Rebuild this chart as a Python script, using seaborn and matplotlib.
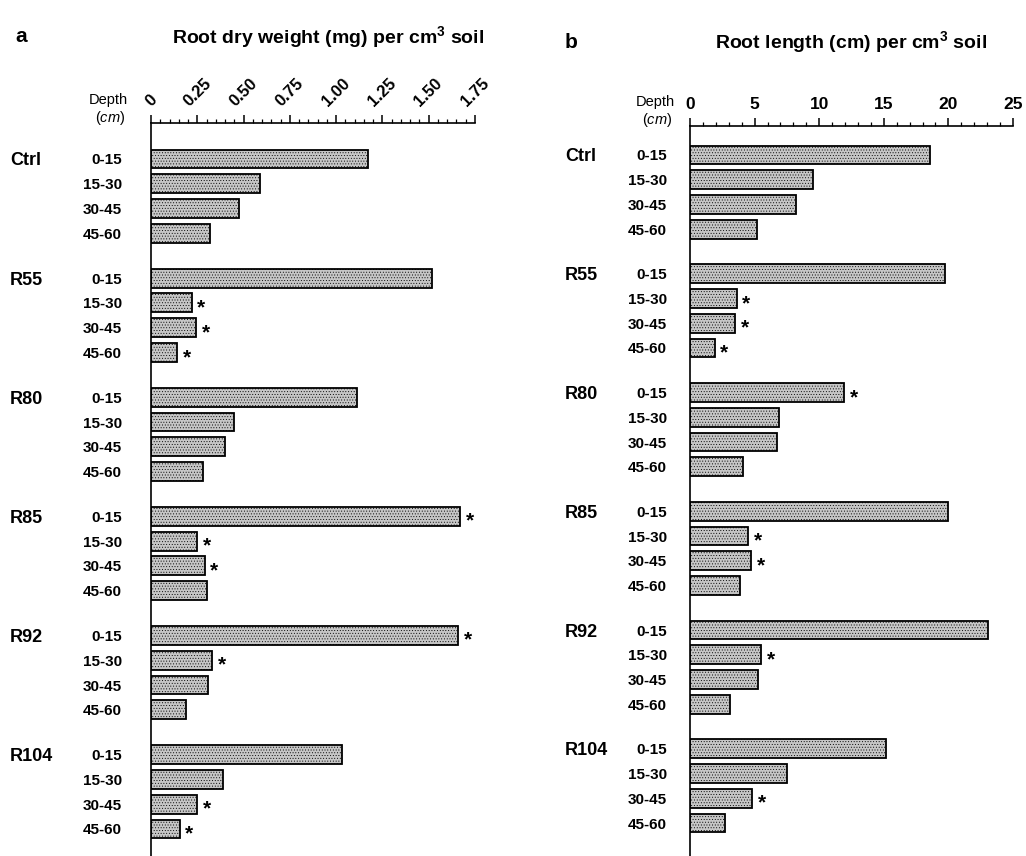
import matplotlib
matplotlib.use("Agg")
import matplotlib.pyplot as plt
from matplotlib.ticker import MultipleLocator
import pandas as pd
import seaborn as sns

groups = ["Ctrl", "R55", "R80", "R85", "R92", "R104"]
depths = ["0-15", "15-30", "30-45", "45-60"]

dry_weight = [
    1.17, 0.59, 0.475, 0.32,
    1.52, 0.22, 0.245, 0.14,
    1.11, 0.45, 0.40, 0.28,
    1.67, 0.25, 0.29, 0.30,
    1.66, 0.33, 0.31, 0.19,
    1.03, 0.39, 0.25, 0.155,
]
root_length = [
    18.6, 9.5, 8.2, 5.2,
    19.7, 3.6, 3.5, 1.9,
    11.9, 6.9, 6.7, 4.1,
    20.0, 4.5, 4.7, 3.9,
    23.1, 5.5, 5.3, 3.1,
    15.2, 7.5, 4.8, 2.7,
]
# 1 = significantly different from control (asterisk)
sig_weight = [
    0, 0, 0, 0,
    0, 1, 1, 1,
    0, 0, 0, 0,
    1, 1, 1, 0,
    1, 1, 0, 0,
    0, 0, 1, 1,
]
sig_length = [
    0, 0, 0, 0,
    0, 1, 1, 1,
    1, 0, 0, 0,
    0, 1, 1, 0,
    0, 1, 0, 0,
    0, 0, 1, 0,
]

GROUP_STEP = 4.8
BAR_FILL = "#c6c6c6"


def build_frame(values, flags):
    rows = []
    for gi, g in enumerate(groups):
        for di, d in enumerate(depths):
            k = gi * len(depths) + di
            rows.append({
                "group": g,
                "depth": d,
                "pos": gi * GROUP_STEP + di,
                "value": values[k],
                "sig": flags[k],
            })
    return pd.DataFrame(rows)


def draw_panel(fig, rect, df, xmax, major, minor, ylim, star_off,
               label_pad, group_x, rotate):
    ax = fig.add_axes(rect)
    sns.barplot(
        data=df, x="value", y="pos", orient="h", native_scale=True,
        width=0.76, color=BAR_FILL, edgecolor="black", linewidth=1.3,
        saturation=1, ax=ax,
    )
    for p in ax.patches:
        p.set_hatch("......")

    ax.set_xlim(0, xmax)
    ax.set_ylim(*ylim)
    ax.xaxis.set_major_locator(MultipleLocator(major))
    ax.xaxis.set_minor_locator(MultipleLocator(minor))
    ax.xaxis.tick_top()
    ax.tick_params(axis="x", which="major", direction="out", length=6,
                   width=1.1, pad=4, colors="black")
    ax.tick_params(axis="x", which="minor", direction="out", length=3,
                   width=0.9, colors="black")
    for side in ["right", "bottom"]:
        ax.spines[side].set_visible(False)
    for side in ["top", "left"]:
        ax.spines[side].set_linewidth(1.2)
        ax.spines[side].set_color("black")

    if rotate:
        ticks = [i * major for i in range(8)]
        labels = ["0"] + [f"{t:.2f}" for t in ticks[1:]]
        ax.set_xticks(ticks, labels, rotation=45, ha="center", va="bottom",
                      fontsize=12, fontweight="bold")
    else:
        for lbl in ax.get_xticklabels():
            lbl.set_fontsize(12.5)
            lbl.set_fontweight("bold")

    ax.set_yticks(df["pos"], df["depth"], fontsize=11, fontweight="bold")
    ax.tick_params(axis="y", length=0, pad=label_pad, colors="black")
    ax.set_xlabel("")
    ax.set_ylabel("")

    for gi, g in enumerate(groups):
        ax.text(group_x, gi * GROUP_STEP, g, transform=ax.get_yaxis_transform(),
                ha="left", va="center_baseline", fontsize=13,
                fontweight="bold")

    for _, r in df[df["sig"] == 1].iterrows():
        ax.text(r["value"] + star_off, r["pos"] + 0.2, "*", ha="left",
                va="center", fontsize=15, fontweight="bold")
    return ax


def main() -> None:
    sns.set_theme(style="white")
    plt.rcParams["font.family"] = ["Liberation Sans", "DejaVu Sans"]
    plt.rcParams["text.color"] = "black"
    plt.rcParams["mathtext.fontset"] = "custom"
    plt.rcParams["mathtext.bf"] = "Liberation Sans:bold"
    plt.rcParams["mathtext.rm"] = "Liberation Sans"
    plt.rcParams["mathtext.it"] = "Liberation Sans:italic"
    plt.rcParams["hatch.linewidth"] = 0.35

    W, H = 1026, 856
    fig = plt.figure(figsize=(W / 100, H / 100), dpi=100)

    df_a = build_frame(dry_weight, sig_weight)
    df_b = build_frame(root_length, sig_length)

    draw_panel(
        fig, [151 / W, 0, 324 / W, 1 - 123 / H], df_a,
        xmax=1.75, major=0.25, minor=0.05, ylim=(28.09, -1.45),
        star_off=0.03, label_pad=21, group_x=-141 / 324, rotate=True,
    )
    draw_panel(
        fig, [690 / W, 0, 323 / W, 1 - 126 / H], df_b,
        xmax=25, major=5, minor=1, ylim=(28.33, -1.17),
        star_off=0.45, label_pad=16.5, group_x=-125 / 323, rotate=False,
    )

    fig.text(15 / W, 1 - 37 / H, "a", fontsize=15, fontweight="bold",
             ha="left", va="center")
    fig.text(328 / W, 1 - 37 / H,
             r"Root dry weight (mg) per cm$^{\mathbf{3}}$ soil",
             fontsize=14, fontweight="bold", ha="center", va="center")
    fig.text(565 / W, 1 - 42 / H, "b", fontsize=15, fontweight="bold",
             ha="left", va="center")
    fig.text(851 / W, 1 - 42 / H,
             r"Root length (cm) per cm$^{\mathbf{3}}$ soil",
             fontsize=14, fontweight="bold", ha="center", va="center")

    for x_right, y_top in [(128, 100), (675, 102)]:
        fig.text(x_right / W, 1 - y_top / H, "Depth", fontsize=10.5,
                 ha="right", va="center")
        fig.text((x_right - 3) / W, 1 - (y_top + 18) / H, r"($\mathit{cm}$)",
                 fontsize=10.5, ha="right", va="center")

    fig.savefig("out.png", dpi=100)
    plt.close(fig)


if __name__ == "__main__":
    main()
